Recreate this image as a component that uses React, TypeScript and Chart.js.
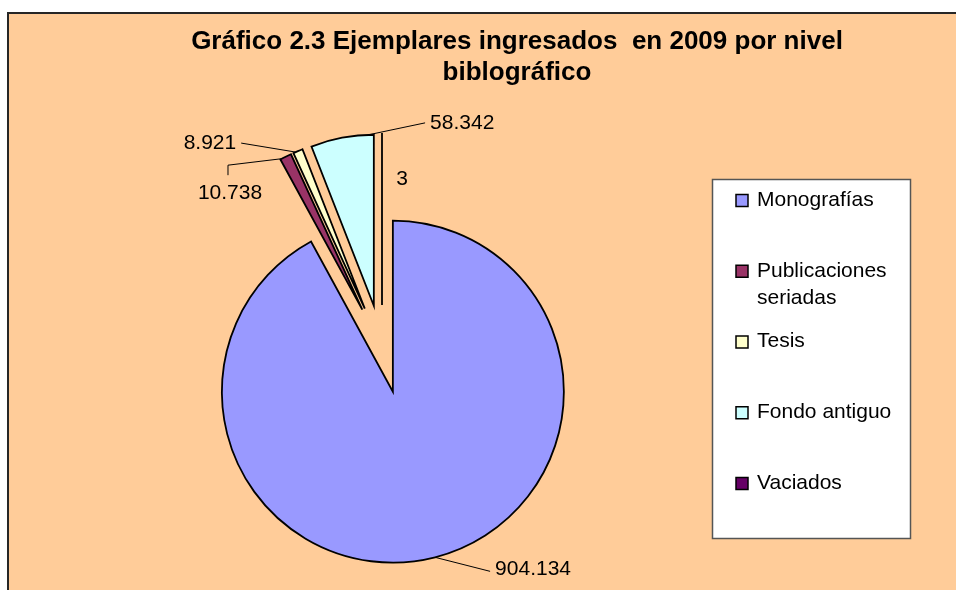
import { useEffect, useRef } from 'react';
import { Chart, registerables } from 'chart.js';

Chart.register(...registerables);

// ---- data ----
const categories = ['Monografías', 'Publicaciones seriadas', 'Tesis', 'Fondo antiguo', 'Vaciados'];
const legendLines = [['Monografías'], ['Publicaciones', 'seriadas'], ['Tesis'], ['Fondo antiguo'], ['Vaciados']];
const values = [904134, 10738, 8921, 58342, 3];
const titleLines = ['Gráfico 2.3 Ejemplares ingresados  en 2009 por nivel', 'biblográfico'];
const sliceColors = ['#9999FF', '#993366', '#FFFFCC', '#CCFFFF', '#660066'];

// ---- layout / style ----
const EXPLODE = 44;
const FONT = '"Liberation Sans", Arial, sans-serif';
const labelLayout = [
  { frac: 0.5, path: [[55, 14]], text: [5, -2], align: 'left' },
  { frac: 0.15, path: [[-54, 6.5], [0, 10]], text: [2, 18.5], align: 'center' },
  { frac: 0.25, path: [[-54.5, -9]], text: [-5, 0.5], align: 'right' },
  { frac: 0.91, path: [[57, -12]], text: [5, 0], align: 'left' },
  { frac: 0.5, path: [], text: [20, 45.5], align: 'center' },
];
const legendBox = { x: 712, y: 179, w: 198, h: 359 };

function fmt(v: number): string {
  return String(v).replace(/\B(?=(\d{3})+(?!\d))/g, '.');
}

const excelPie = {
  id: 'excelPie',
  beforeDraw(chart: any) {
    const ctx = chart.ctx as CanvasRenderingContext2D;
    ctx.save();
    ctx.fillStyle = '#FFFFFF';
    ctx.fillRect(0, 0, chart.width, chart.height);
    ctx.fillStyle = '#FFCC99';
    ctx.fillRect(7, 12, chart.width, chart.height);
    ctx.fillStyle = '#262626';
    ctx.fillRect(7, 12, 2, chart.height);
    ctx.fillRect(7, 12, chart.width, 2);
    ctx.restore();
  },
  beforeDatasetDraw(chart: any, args: any) {
    const ctx = chart.ctx as CanvasRenderingContext2D;
    for (const el of args.meta.data) {
      const mid = (el.startAngle + el.endAngle) / 2;
      ctx.save();
      ctx.translate(Math.cos(mid) * EXPLODE, Math.sin(mid) * EXPLODE);
      el.draw(ctx);
      ctx.restore();
    }
    return false;
  },
  afterDraw(chart: any) {
    const ctx = chart.ctx as CanvasRenderingContext2D;
    const meta = chart.getDatasetMeta(0);
    ctx.save();
    // data labels with leader lines
    ctx.font = `21px ${FONT}`;
    ctx.fillStyle = '#000';
    ctx.strokeStyle = '#000';
    ctx.lineWidth = 1;
    meta.data.forEach((el: any, i: number) => {
      const lay = labelLayout[i];
      const mid = (el.startAngle + el.endAngle) / 2;
      const vx = el.x + Math.cos(mid) * EXPLODE;
      const vy = el.y + Math.sin(mid) * EXPLODE;
      const a = el.startAngle + lay.frac * (el.endAngle - el.startAngle);
      let px = vx + Math.cos(a) * el.outerRadius;
      let py = vy + Math.sin(a) * el.outerRadius;
      if (lay.path.length) {
        ctx.beginPath();
        ctx.moveTo(px, py);
        for (const [dx, dy] of lay.path) {
          px += dx;
          py += dy;
          ctx.lineTo(px, py);
        }
        ctx.stroke();
      }
      ctx.textAlign = lay.align as CanvasTextAlign;
      ctx.textBaseline = 'middle';
      ctx.fillText(fmt(values[i]), px + lay.text[0], py + lay.text[1]);
    });

    // title
    ctx.font = `bold 26px ${FONT}`;
    ctx.textAlign = 'center';
    ctx.textBaseline = 'alphabetic';
    titleLines.forEach((t, i) => ctx.fillText(t, 517, 49 + i * 30.5));

    // legend
    ctx.fillStyle = '#FFFFFF';
    ctx.fillRect(legendBox.x, legendBox.y, legendBox.w, legendBox.h);
    ctx.strokeStyle = '#555';
    ctx.lineWidth = 1.5;
    ctx.strokeRect(legendBox.x + 0.5, legendBox.y + 0.5, legendBox.w, legendBox.h);
    ctx.font = `21px ${FONT}`;
    ctx.textAlign = 'left';
    ctx.textBaseline = 'middle';
    legendLines.forEach((lines, i) => {
      const y = 200 + i * 70.75;
      ctx.fillStyle = sliceColors[i];
      ctx.fillRect(736, y - 5.5, 12, 12);
      ctx.strokeStyle = '#000';
      ctx.lineWidth = 1.5;
      ctx.strokeRect(736, y - 5.5, 12, 12);
      ctx.fillStyle = '#000';
      lines.forEach((ln, j) => ctx.fillText(ln, 757, y + j * 27.5));
    });
    ctx.restore();
  },
};

export default function App() {
  const ref = useRef<HTMLCanvasElement>(null);
  useEffect(() => {
    if (!ref.current) return;
    const chart = new Chart(ref.current, {
      type: 'pie',
      data: {
        labels: categories,
        datasets: [
          {
            data: values,
            backgroundColor: sliceColors,
            borderColor: '#000000',
            borderWidth: 1.8,
            borderJoinStyle: 'miter',
            offset: 0,
          },
        ],
      },
      options: {
        responsive: false,
        animation: false,
        events: [],
        radius: 171,
        rotation: 0,
        layout: { padding: { left: 0, right: 192, top: 108, bottom: 0 } },
        plugins: {
          legend: { display: false },
          tooltip: { enabled: false },
          title: { display: false },
        },
      } as any,
      plugins: [excelPie],
    });
    return () => chart.destroy();
  }, []);
  return (
    <div style={{ position: 'fixed', left: 0, top: 0, width: 956, height: 590, background: '#fff' }}>
      <canvas ref={ref} width={956} height={590} style={{ display: 'block' }} />
    </div>
  );
}
